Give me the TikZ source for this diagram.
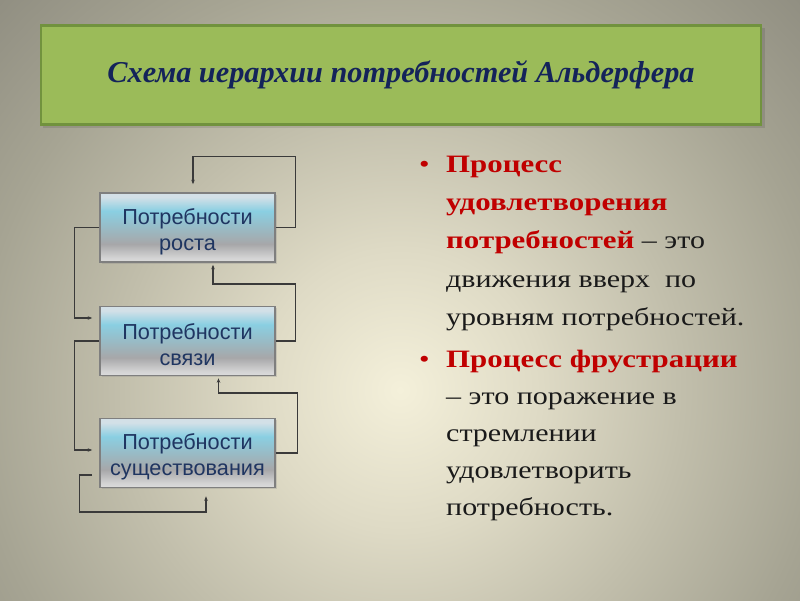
\documentclass[tikz,border=0pt]{standalone}
\usepackage{fontspec}
\setmainfont{Liberation Serif}
\newfontfamily\boxfont{Liberation Sans}
\newfontfamily\rtfont{Liberation Serif}[FakeStretch=1.2]
\newfontfamily\rtbold{Liberation Serif Bold}[FakeStretch=1.235]
\usetikzlibrary{arrows.meta,shadows}
\definecolor{bgA}{HTML}{F4F0DA}
\definecolor{bgB}{HTML}{DEDAC5}
\definecolor{bgC}{HTML}{C1BEAB}
\definecolor{bgD}{HTML}{A6A493}
\definecolor{bgE}{HTML}{8C8A7E}
\definecolor{titlegreen}{HTML}{9BBB59}
\definecolor{titleborder}{HTML}{71923E}
\definecolor{navy}{HTML}{14235A}
\definecolor{boxtext}{HTML}{1F3561}
\definecolor{boxborder}{HTML}{7F7F7F}
\definecolor{bxTop}{HTML}{D3E0E7}
\definecolor{bxCyan}{HTML}{8ACFE2}
\definecolor{bxGray}{HTML}{A7A7A9}
\definecolor{bxBot}{HTML}{DCDCDC}
\definecolor{redtxt}{HTML}{C00000}
\definecolor{blacktxt}{HTML}{1A1A1A}
\definecolor{conncol}{HTML}{3A3A3A}
\pgfdeclareradialshading{bgshade}{\pgfpoint{0bp}{0bp}}{color(0bp)=(bgA); color(6bp)=(bgB); color(12bp)=(bgC); color(18bp)=(bgD); color(25bp)=(bgE); color(50bp)=(bgE)}
\pgfdeclareverticalshading{boxshade}{100bp}{color(0bp)=(bxBot); color(25bp)=(bxBot); color(28bp)=(bxBot!85!bxGray); color(38bp)=(bxGray); color(62bp)=(bxCyan); color(72bp)=(bxTop); color(75bp)=(bxTop); color(100bp)=(bxTop)}
\tikzset{
  needbox/.style={draw=boxborder, line width=1.6pt, shading=boxshade, minimum width=175pt, minimum height=69pt, inner sep=0pt, drop shadow={shadow xshift=1.5pt, shadow yshift=-1.5pt, opacity=0.25}},
  needtext/.style={inner sep=0pt, align=center, font=\boxfont\fontsize{21.7}{26}\selectfont, text=boxtext},
  conn/.style={draw=conncol, line width=1.1pt},
  arr/.style={conn, -{Stealth[length=4.5pt,width=3.5pt]}},
  txt/.style={anchor=base west, inner sep=0pt, font=\rtfont\fontsize{25}{30}\selectfont, text=blacktxt},
  bul/.style={anchor=base west, inner sep=0pt, font=\rtfont\fontsize{25}{30}\selectfont, text=redtxt}
}
\newcommand{\hl}[1]{\textcolor{redtxt}{\rtbold #1}}
\begin{document}
\begin{tikzpicture}[x=1pt,y=-1pt]
\useasboundingbox (0,0) rectangle (800,600);
\begin{scope}
\clip (0,0) rectangle (800,600);
\shade[shading=bgshade] (400,390) circle (590);
\end{scope}
% title
\fill[black, opacity=0.1] (43,28) rectangle (765,128);
\node[draw=titleborder, line width=2.5pt, fill=titlegreen, minimum width=720pt, minimum height=99pt, inner sep=0pt] (title) at (401,75) {};
\node[inner sep=0pt, text=navy, font=\fontsize{30.3}{36}\selectfont\bfseries\itshape] (titletext) at (title.center) {Схема иерархии потребностей Альдерфера};
% boxes
\node[needbox] (b1) at (187.5,227.5) {};
\node[needbox] (b2) at (187.5,341) {};
\node[needbox] (b3) at (187.5,453) {};
\node[needtext] (t1) at (187.5,231.5) {Потребности\\роста};
\node[needtext] (t2) at (187.5,345) {Потребности\\связи};
\node[needtext] (t3) at (187.5,457) {Потребности\\существования};
% connectors
\draw[arr, shorten >=8pt] (b1.east) -| ++(20,-71) -| ([xshift=5.5pt]b1.north);
\draw[arr, shorten >=7pt] (b1.west) -- ++(-25,0) |- ([yshift=23pt]b2.west);
\draw[arr, shorten >=2pt] (b2.east) -| ++(20,-57) -| ([xshift=25.5pt]b1.south);
\draw[arr, shorten >=7pt] (b2.west) -- ++(-25,0) |- ([yshift=3pt]b3.west);
\draw[arr, shorten >=2pt] (b3.east) -| ++(22,-60) -| ([xshift=31pt]b2.south);
\draw[arr, shorten <=7pt, shorten >=8pt] ([yshift=-22pt]b3.west) -| ++(-20,37) -| ([xshift=18.5pt]b3.south);
% right text
\node[bul] (u1) at (419,172) {•};
\node[txt] (l1) at (446,172) {\hl{Процесс}};
\node[txt] (l2) at (446,210) {\hl{удовлетворения}};
\node[txt] (l3) at (446,248) {\hl{потребностей} – это};
\node[txt] (l4) at (446,287) {движения вверх\ \ по};
\node[txt] (l5) at (446,325) {уровням потребностей.};
\node[bul] (u2) at (419,367) {•};
\node[txt] (m1) at (446,367) {\hl{Процесс фрустрации}};
\node[txt] (m2) at (446,404) {– это поражение в};
\node[txt] (m3) at (446,441) {стремлении};
\node[txt] (m4) at (446,478) {удовлетворить};
\node[txt] (m5) at (446,515) {потребность.};
\end{tikzpicture}
\end{document}
